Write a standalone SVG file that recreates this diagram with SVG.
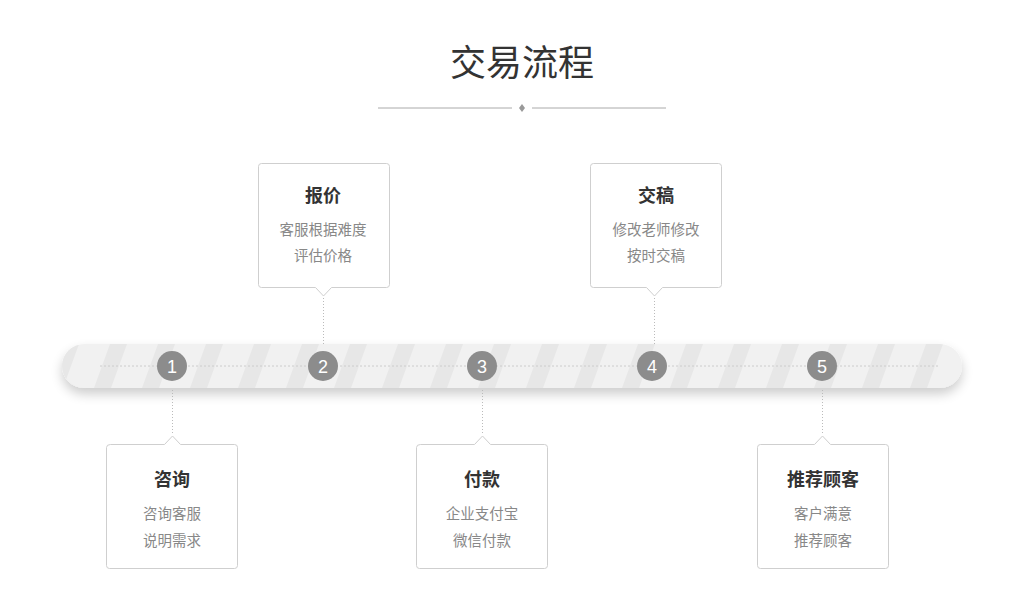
<svg xmlns="http://www.w3.org/2000/svg" width="1024" height="592" viewBox="0 0 1024 592">
<style>
.t{font-family:"Liberation Sans","Noto Sans CJK SC",sans-serif;text-anchor:middle}
.h{font-size:18px;font-weight:bold;fill:#333}
.s{font-size:14.5px;fill:#888}
.box{fill:#fff;stroke:#cfcfcf;stroke-width:1}
.num{font-family:"Liberation Sans",Roboto,sans-serif;font-size:18px;fill:#fff;text-anchor:middle}
.dot{fill:#8c8c8c}
.conn{stroke:#bbb;stroke-width:1;stroke-dasharray:1 2}
</style>
<defs>
<pattern id="stripes" patternUnits="userSpaceOnUse" width="48" height="44" patternTransform="translate(62 344) skewX(-20)">
<rect width="48" height="44" fill="#f1f1f1"/>
<rect width="17" height="44" fill="#e7e7e7"/>
</pattern>
<filter id="sh" x="-5%" y="-50%" width="110%" height="220%">
<feGaussianBlur in="SourceAlpha" stdDeviation="6"/>
<feOffset dy="6" result="b"/>
<feComponentTransfer><feFuncA type="linear" slope="0.2"/></feComponentTransfer>
<feMerge><feMergeNode/><feMergeNode in="SourceGraphic"/></feMerge>
</filter>
</defs>
<rect width="1024" height="592" fill="#fff"/>
<g id="title">
<text class="t" x="522" y="76" font-size="36" fill="#333">交易流程</text>
<line x1="378" y1="108" x2="512" y2="108" stroke="#aaa"/>
<line x1="532" y1="108" x2="666" y2="108" stroke="#aaa"/>
<path d="M522 104 L525 108 L522 112 L519 108 Z" fill="#999"/>
</g>
<g id="bar">
<rect x="62" y="344" width="900" height="44" rx="22" fill="url(#stripes)" filter="url(#sh)"/>
<line x1="100" y1="366" x2="940" y2="366" stroke="#ccc" stroke-dasharray="2 2"/>
</g>
<g id="connectors">
<line class="conn" x1="323.5" y1="298" x2="323.5" y2="344"/>
<line class="conn" x1="654.5" y1="298" x2="654.5" y2="344"/>
<line class="conn" x1="172.5" y1="390" x2="172.5" y2="434"/>
<line class="conn" x1="482.5" y1="390" x2="482.5" y2="434"/>
<line class="conn" x1="822.5" y1="390" x2="822.5" y2="434"/>
</g>
<g id="n1">
<circle class="dot" cx="172" cy="366" r="15"/><text class="num" x="172" y="372.5">1</text>
<path class="box" d="M110.5 444.5 H164.5 L172.5 436 L180.5 444.5 H234.5 Q237.5 444.5 237.5 447.5 V565.5 Q237.5 568.5 234.5 568.5 H109.5 Q106.5 568.5 106.5 565.5 V447.5 Q106.5 444.5 110.5 444.5 Z"/>
<text class="t h" x="172" y="486">咨询</text>
<text class="t s" x="172" y="519">咨询客服</text>
<text class="t s" x="172" y="546">说明需求</text>
</g>
<g id="n2">
<circle class="dot" cx="323" cy="366" r="15"/><text class="num" x="323" y="372.5">2</text>
<path class="box" d="M261.5 163.5 H386.5 Q389.5 163.5 389.5 166.5 V284.5 Q389.5 287.5 386.5 287.5 H331.5 L323.5 296 L315.5 287.5 H261.5 Q258.5 287.5 258.5 284.5 V166.5 Q258.5 163.5 261.5 163.5 Z"/>
<text class="t h" x="323" y="202">报价</text>
<text class="t s" x="323" y="235">客服根据难度</text>
<text class="t s" x="323" y="261">评估价格</text>
</g>
<g id="n3">
<circle class="dot" cx="482" cy="366" r="15"/><text class="num" x="482" y="372.5">3</text>
<path class="box" d="M420.5 444.5 H474.5 L482.5 436 L490.5 444.5 H544.5 Q547.5 444.5 547.5 447.5 V565.5 Q547.5 568.5 544.5 568.5 H419.5 Q416.5 568.5 416.5 565.5 V447.5 Q416.5 444.5 420.5 444.5 Z"/>
<text class="t h" x="482" y="486">付款</text>
<text class="t s" x="482" y="519">企业支付宝</text>
<text class="t s" x="482" y="546">微信付款</text>
</g>
<g id="n4">
<circle class="dot" cx="652" cy="366" r="15"/><text class="num" x="652" y="372.5">4</text>
<path class="box" d="M593.5 163.5 H718.5 Q721.5 163.5 721.5 166.5 V284.5 Q721.5 287.5 718.5 287.5 H662.5 L654.5 296 L646.5 287.5 H593.5 Q590.5 287.5 590.5 284.5 V166.5 Q590.5 163.5 593.5 163.5 Z"/>
<text class="t h" x="656" y="202">交稿</text>
<text class="t s" x="656" y="235">修改老师修改</text>
<text class="t s" x="656" y="261">按时交稿</text>
</g>
<g id="n5">
<circle class="dot" cx="822" cy="366" r="15"/><text class="num" x="822" y="372.5">5</text>
<path class="box" d="M760.5 444.5 H814.5 L822.5 436 L830.5 444.5 H885.5 Q888.5 444.5 888.5 447.5 V565.5 Q888.5 568.5 885.5 568.5 H760.5 Q757.5 568.5 757.5 565.5 V447.5 Q757.5 444.5 760.5 444.5 Z"/>
<text class="t h" x="823" y="486">推荐顾客</text>
<text class="t s" x="823" y="519">客户满意</text>
<text class="t s" x="823" y="546">推荐顾客</text>
</g>
</svg>
